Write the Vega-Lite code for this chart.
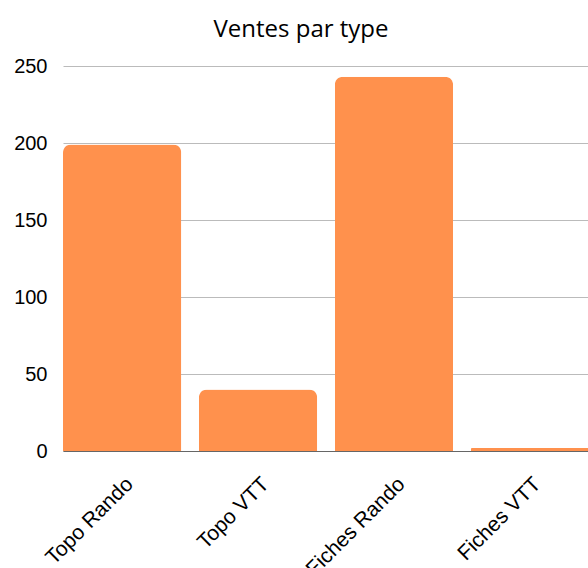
{
  "$schema": "https://vega.github.io/schema/vega-lite/v6.json",
  "autosize": "none",
  "width": 526,
  "height": 385,
  "padding": {"left": 63, "top": 66, "right": 0, "bottom": 117},
  "background": "white",
  "title": {"text": "Ventes par type", "font": "Open Sans", "fontSize": 24, "fontWeight": "normal", "color": "#000000", "anchor": "middle", "dx": -25, "offset": 14},
  "data": {"values": [
    {"type": "Topo Rando", "ventes": 199},
    {"type": "Topo VTT", "ventes": 40},
    {"type": "Fiches Rando", "ventes": 243},
    {"type": "Fiches VTT", "ventes": 2}
  ]},
  "mark": {"type": "bar", "color": "#FF914D", "cornerRadiusTopLeft": 8, "cornerRadiusTopRight": 8},
  "encoding": {
    "x": {"field": "type", "type": "nominal", "sort": null,
      "scale": {"paddingInner": 0.13, "paddingOuter": 0},
      "axis": {"title": null, "labelAngle": -45, "labelFont": "Liberation Sans", "labelFontSize": 21, "labelColor": "#000000", "ticks": false, "domainColor": "#666666", "labelPadding": 22, "labelDx": -4}},
    "y": {"field": "ventes", "type": "quantitative",
      "scale": {"domain": [0, 250]},
      "axis": {"title": null, "values": [0, 50, 100, 150, 200, 250], "domain": false, "ticks": false, "labelFont": "Liberation Sans", "labelFontSize": 20, "labelColor": "#000000", "labelPadding": 16, "gridColor": "#bbbbbb"}}
  },
  "config": {"view": {"stroke": null}}
}
